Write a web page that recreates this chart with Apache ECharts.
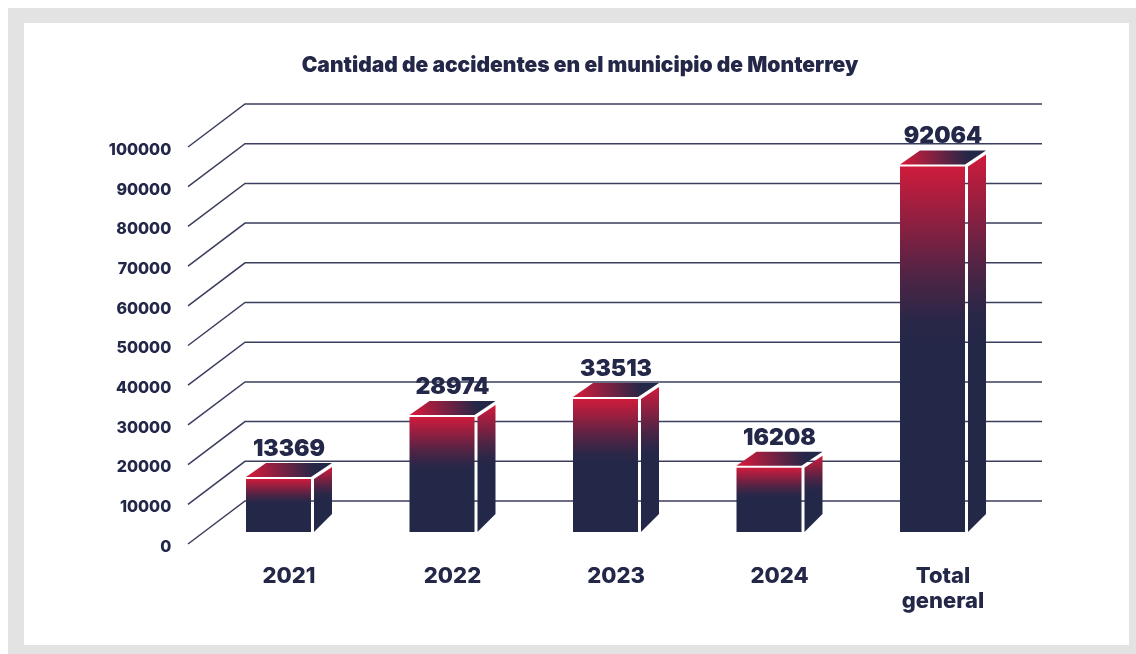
<!DOCTYPE html>
<html><head><meta charset="utf-8">
<style>html,body{margin:0;padding:0;background:#fff}#c{width:1136px;height:654px}</style>
<script src="https://cdn.jsdelivr.net/npm/echarts@6/dist/echarts.min.js"></script>
</head><body><div id="c"></div>
<script>
const categories = ['2021','2022','2023','2024','Total\ngeneral'];
const accidents = [13369,28974,33513,16208,92064];
const yTicks = [0,10000,20000,30000,40000,50000,60000,70000,80000,90000,100000];
const titleText = 'Cantidad de accidentes en el municipio de Monterrey';

const NAVY='#232748', RED='#cf1b3c', FONT='Inter';
const chart = echarts.init(document.getElementById('c'),null,{renderer:'canvas'});
const vGrad = {type:'linear',x:0,y:0,x2:0,y2:1,colorStops:[{offset:0,color:RED},{offset:0.3,color:'#4f2445'},{offset:0.42,color:'#2a2748'},{offset:0.5,color:NAVY},{offset:1,color:NAVY}]};
const topGrad = {type:'linear',x:0,y:1,x2:1,y2:0,colorStops:[{offset:0.05,color:RED},{offset:0.8,color:NAVY}]};

function renderBar(params, api){
  const cx = api.coord([api.value(0),0])[0];
  const y0 = api.coord([0,0])[1]-12;
  const yTop = api.coord([0,api.value(1)])[1]-12;
  const L=cx-43, R=cx+22, S=cx+25, E=cx+43;
  return {type:'group',children:[
    {type:'polygon',shape:{points:[[L,yTop],[L,y0],[R,y0],[R,yTop]]},style:{fill:vGrad}},
    {type:'polygon',shape:{points:[[S,yTop],[S,y0],[E,y0-18],[E,yTop-12]]},style:{fill:vGrad}},
    {type:'polygon',shape:{points:[[L,yTop-2],[L+20,yTop-16],[E,yTop-16],[R,yTop-2]]},style:{fill:topGrad}},
    {type:'text',style:{text:String(api.value(1)),x:cx,y:yTop-30,align:'center',verticalAlign:'middle',
      font:'900 23px '+FONT,fill:NAVY}}
  ]};
}
function renderLine(params, api){
  const y = api.coord([0,api.value(1)])[1];
  const cs = params.coordSys;
  return {type:'polyline',shape:{points:[[cs.x-19.25,y],[cs.x+37.75,y-43],[cs.x+cs.width+17.25,y-43]]},
    style:{fill:null,stroke:'#3b3e5e',lineWidth:1.5}};
}
chart.setOption({
  animation:false,
  backgroundColor:'#fff',
  title:{text:titleText,left:575,top:50,textAlign:'center',textStyle:{fontFamily:FONT,fontWeight:900,fontSize:21,color:NAVY}},
  graphic:[
    {type:'rect',z:-10,silent:true,shape:{x:8,y:8,width:1128,height:646},style:{fill:'#e3e3e3'}},
    {type:'rect',z:-9,silent:true,shape:{x:24,y:23,width:1105,height:622},style:{fill:'#fff'}}
  ],
  grid:{left:207.25,width:817.5,top:147,height:397},
  xAxis:{type:'category',data:categories,axisLine:{show:false},axisTick:{show:false},splitLine:{show:false},
    axisLabel:{margin:20,color:NAVY,fontFamily:FONT,fontWeight:800,fontSize:22,lineHeight:25,interval:0}},
  yAxis:{type:'value',min:0,max:100000,interval:10000,axisLine:{show:false},axisTick:{show:false},splitLine:{show:false},
    axisLabel:{margin:36,color:NAVY,fontFamily:FONT,fontWeight:800,fontSize:16,verticalAlign:'top',lineHeight:6,formatter:v=>String(v)}},
  series:[
    {type:'custom',z:1,renderItem:renderLine,data:yTicks.map(v=>[0,v]),encode:{x:0,y:1},silent:true,clip:false},
    {type:'custom',z:2,renderItem:renderBar,data:accidents.map((v,i)=>[i,v]),encode:{x:0,y:1},silent:true,clip:false}
  ]
});
</script></body></html>
